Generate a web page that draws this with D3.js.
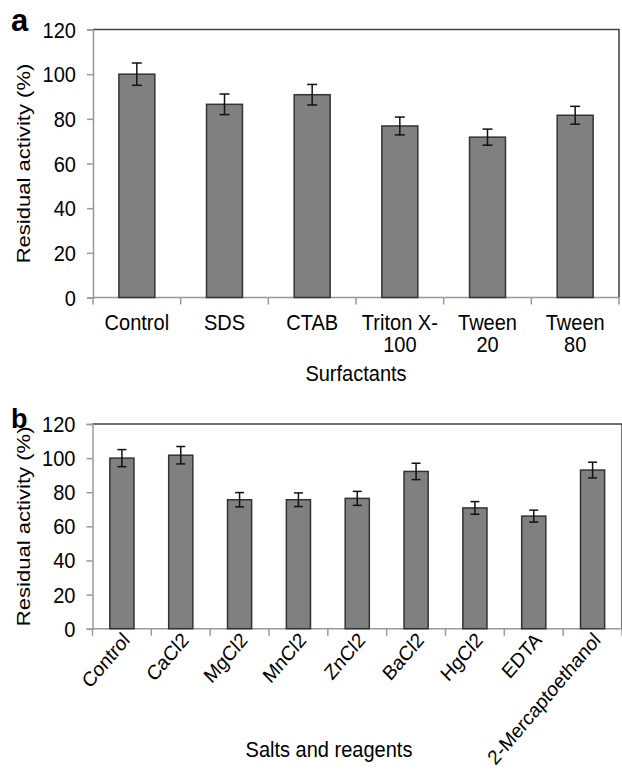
<!DOCTYPE html>
<html>
<head>
<meta charset="utf-8">
<script src="https://cdn.jsdelivr.net/npm/d3@7"></script>
<style>
  body { margin: 0; background: #fff; }
  svg text { font-family: "Liberation Sans", Arial, sans-serif; fill: #000; }
</style>
</head>
<body>
<svg id="chart" width="622" height="771"></svg>
<script>
// panel a: surfactants
var surfCats = ["Control", "SDS", "CTAB", "Triton X-100", "Tween 20", "Tween 80"];
var surfLabels = [["Control"], ["SDS"], ["CTAB"], ["Triton X-", "100"], ["Tween", "20"], ["Tween", "80"]];
var surfVals = [100, 86.5, 90.8, 76.8, 71.8, 81.6];
var surfErr = [5, 4.6, 4.6, 4, 3.6, 4];

// panel b: salts and reagents
var saltCats = ["Control", "CaCl2", "MgCl2", "MnCl2", "ZnCl2", "BaCl2", "HgCl2", "EDTA", "2-Mercaptoethanol"];
var saltVals = [100, 101.7, 75.6, 75.6, 76.4, 92.2, 70.8, 66, 93];
var saltErr = [5, 5.1, 4.2, 4, 4.1, 4.8, 3.7, 3.5, 4.6];

var yTicks = [0, 20, 40, 60, 80, 100, 120];

var SX = 0.91; // the source text looks a bit narrow / tall
var svg = d3.select("#chart");

function label(g, x, y, txt, size, anchor){
	return g.append("text")
		.attr("transform", "translate(" + x + "," + y + ") scale(" + SX + ",1)")
		.attr("text-anchor", anchor || "middle")
		.style("font-size", size)
		.text(txt);
}

function panel(cfg){
	var g = svg.append("g");
	var x = d3.scaleBand().domain(cfg.cats).range([cfg.left, cfg.right])
		.paddingInner(0.59).paddingOuter(0.295);
	var y = d3.scaleLinear().domain([0, 120]).range([cfg.bottom, cfg.top]);
	var step = x.step();

	// frame top + right (dark)
	g.append("path")
		.attr("d", "M" + cfg.left + "," + y(120) + "H" + cfg.right + "V" + y(0))
		.attr("fill", "none").attr("stroke", "#404040").attr("stroke-width", 1.5);

	// y axis
	var ya = g.append("g").attr("transform", "translate(" + cfg.left + ",0)")
		.call(d3.axisLeft(y).tickValues(yTicks).tickSize(6).tickPadding(11));
	ya.select(".domain").attr("stroke", "#999").attr("stroke-width", 1.5);
	ya.selectAll(".tick line").attr("stroke", "#999").attr("stroke-width", 1.5);
	ya.selectAll(".tick text").remove();
	ya.selectAll(".tick").each(function(d){
		label(d3.select(this), -17, 7.5, d, "22px", "end");
	});

	// x axis line and boundary ticks
	g.append("line").attr("x1", cfg.left).attr("x2", cfg.right)
		.attr("y1", y(0)).attr("y2", y(0))
		.attr("stroke", "#999").attr("stroke-width", 1.5);
	var bounds = cfg.cats.map(function(d){ return x(d) - step * 0.295; });
	bounds.push(cfg.right);
	g.selectAll(".xt").data(bounds).enter().append("line")
		.attr("x1", function(d){ return d; }).attr("x2", function(d){ return d; })
		.attr("y1", y(0)).attr("y2", y(0) + 7)
		.attr("stroke", "#999").attr("stroke-width", 1.5);

	// bars
	g.selectAll(".bar").data(cfg.cats).enter().append("rect")
		.attr("x", function(d){ return x(d); })
		.attr("width", x.bandwidth())
		.attr("y", function(d, i){ return y(cfg.vals[i]); })
		.attr("height", function(d, i){ return y(0) - y(cfg.vals[i]); })
		.attr("fill", "#808080").attr("stroke", "#333").attr("stroke-width", 1.5);

	// error bars
	var cap = cfg.cap;
	var eb = g.selectAll(".err").data(cfg.cats).enter().append("g")
		.attr("transform", function(d){ return "translate(" + (x(d) + x.bandwidth() / 2) + ",0)"; });
	eb.append("line").attr("x1", 0).attr("x2", 0)
		.attr("y1", function(d, i){ return y(cfg.vals[i] + cfg.err[i]); })
		.attr("y2", function(d, i){ return y(cfg.vals[i] - cfg.err[i]); });
	eb.append("line").attr("x1", -cap).attr("x2", cap)
		.attr("y1", function(d, i){ return y(cfg.vals[i] + cfg.err[i]); })
		.attr("y2", function(d, i){ return y(cfg.vals[i] + cfg.err[i]); });
	eb.append("line").attr("x1", -cap).attr("x2", cap)
		.attr("y1", function(d, i){ return y(cfg.vals[i] - cfg.err[i]); })
		.attr("y2", function(d, i){ return y(cfg.vals[i] - cfg.err[i]); });
	eb.selectAll("line").attr("stroke", "#111").attr("stroke-width", 1.5);

	// y title (stretched along its length)
	g.append("text")
		.attr("transform", "translate(30," + ((y(0) + y(120)) / 2) + ") rotate(-90) scale(1.05," + SX + ")")
		.attr("text-anchor", "middle").style("font-size", "21px")
		.text("Residual activity (%)");

	// panel letter
	g.append("text").attr("x", 11).attr("y", cfg.letterY)
		.style("font-size", cfg.letterSize).style("font-weight", "bold")
		.text(cfg.letter);

	return {x: x, y: y, g: g};
}

var a = panel({cats: surfCats, vals: surfVals, err: surfErr, left: 93, right: 619,
	top: 29.5, bottom: 297.5, cap: 5, letter: "a", letterY: 31, letterSize: "31px"});

surfCats.forEach(function(d, i){
	var cx = a.x(d) + a.x.bandwidth() / 2;
	surfLabels[i].forEach(function(s, k){
		label(a.g, cx, 330 + k * 22, s, "22px");
	});
});
label(a.g, 356, 381, "Surfactants", "22px");

var b = panel({cats: saltCats, vals: saltVals, err: saltErr, left: 92.5, right: 622,
	top: 424, bottom: 628.7, cap: 4.5, letter: "b", letterY: 428, letterSize: "27px"});

b.g.selectAll(".xl").data(saltCats).enter().append("text")
	.attr("text-anchor", "end")
	.attr("transform", function(d){
		return "translate(" + (b.x(d) + b.x.bandwidth() / 2 + 9) + ",641) scale(" + SX + ",1) rotate(-47)";
	})
	.style("font-size", "20.5px")
	.text(function(d){ return d; });
label(b.g, 329, 757, "Salts and reagents", "22px");
</script>
</body>
</html>
